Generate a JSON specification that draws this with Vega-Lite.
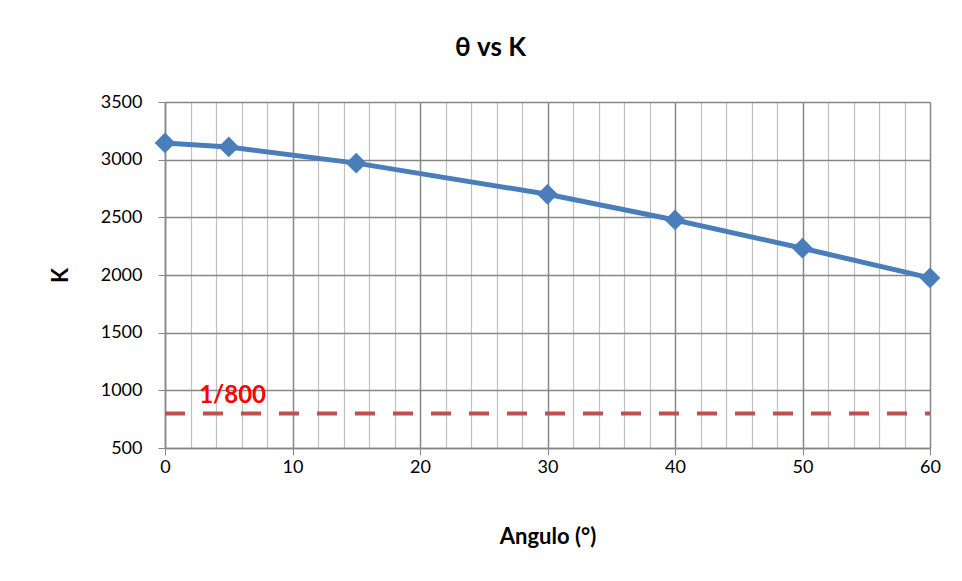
{
  "$schema": "https://vega.github.io/schema/vega-lite/v6.json",
  "width": 765,
  "height": 346,
  "autosize": {"type": "none"},
  "padding": {"left": 165, "top": 102, "right": 32, "bottom": 133},
  "background": "white",
  "config": {
    "view": {"stroke": null},
    "font": "Lato"
  },
  "title": {
    "text": "θ vs K",
    "fontSize": 26,
    "fontWeight": "bold",
    "font": "Lato",
    "color": "#000000",
    "offset": 32,
    "dx": -57
  },
  "datasets": {
    "k": [
      {"angulo": 0, "K": 3145},
      {"angulo": 5, "K": 3110},
      {"angulo": 15, "K": 2970},
      {"angulo": 30, "K": 2700},
      {"angulo": 40, "K": 2477},
      {"angulo": 50, "K": 2232},
      {"angulo": 60, "K": 1975}
    ],
    "ref": [
      {"angulo": 0, "K": 800},
      {"angulo": 60, "K": 800}
    ],
    "lbl": [
      {"angulo": 5.3, "K": 955, "text": "1/800"}
    ]
  },
  "layer": [
    {
      "data": {"name": "ref"},
      "mark": {"type": "line", "color": "#c0504d", "strokeWidth": 4, "strokeDash": [20, 18]},
      "encoding": {
        "x": {
          "field": "angulo", "type": "quantitative",
          "scale": {"domain": [0, 60], "nice": false},
          "axis": {
            "title": "Angulo (°)",
            "values": [0,2,4,6,8,10,12,14,16,18,20,22,24,26,28,30,32,34,36,38,40,42,44,46,48,50,52,54,56,58,60],
            "tickCount": 200,
            "format": "d",
            "labelExpr": "datum.value % 10 === 0 ? datum.label : ''",
            "labelOverlap": false,
            "labelFlush": false,
            "labelFontSize": 18,
            "labelColor": "#000000",
            "labelPadding": 3,
            "labelFont": "Lato",
            "tickSize": 7,
            "tickColor": "#868686",
            "tickOpacity": {"condition": {"test": "datum.value % 10 === 0", "value": 1}, "value": 0},
            "domainColor": "#868686",
            "domainWidth": 1.5,
            "grid": true,
            "gridColor": {"condition": {"test": "datum.value % 10 === 0", "value": "#868686"}, "value": "#c0c0c0"},
            "gridWidth": {"condition": {"test": "datum.value % 10 === 0", "value": 1.5}, "value": 1.2},
            "titleFontSize": 22,
            "titleFontWeight": "bold",
            "titleFont": "Lato",
            "titleColor": "#000000",
            "titlePadding": 50
          }
        },
        "y": {
          "field": "K", "type": "quantitative",
          "scale": {"domain": [500, 3500], "nice": false, "zero": false},
          "axis": {
            "title": "K",
            "values": [500, 1000, 1500, 2000, 2500, 3000, 3500],
            "tickCount": 100,
            "format": "d",
            "labelOverlap": false,
            "labelFlush": false,
            "labelFontSize": 18,
            "labelColor": "#000000",
            "labelFont": "Lato",
            "labelPadding": 16,
            "tickSize": 7,
            "tickColor": "#868686",
            "domainColor": "#868686",
            "domainWidth": 1.5,
            "grid": true,
            "gridColor": "#868686",
            "gridWidth": 1.5,
            "titleFontSize": 22,
            "titleFontWeight": "bold",
            "titleFont": "Lato",
            "titleColor": "#000000",
            "titlePadding": 28
          }
        }
      }
    },
    {
      "data": {"name": "k"},
      "mark": {"type": "line", "color": "#4a7ebb", "strokeWidth": 5, "point": {"shape": "diamond", "size": 430, "filled": true, "color": "#4a7ebb", "opacity": 1}},
      "encoding": {
        "x": {"field": "angulo", "type": "quantitative"},
        "y": {"field": "K", "type": "quantitative"}
      }
    },
    {
      "data": {"name": "lbl"},
      "mark": {"type": "text", "color": "#ff0000", "fontSize": 24, "fontWeight": "bold", "font": "Lato", "align": "center", "baseline": "middle"},
      "encoding": {
        "x": {"field": "angulo", "type": "quantitative"},
        "y": {"field": "K", "type": "quantitative"},
        "text": {"field": "text"}
      }
    }
  ]
}
